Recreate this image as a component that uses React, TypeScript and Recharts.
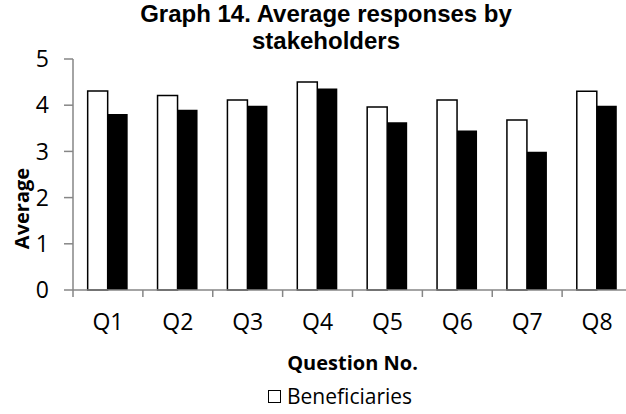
import React from "react";
import { BarChart, Bar, XAxis, YAxis, Legend } from "recharts";

const questions = ["Q1", "Q2", "Q3", "Q4", "Q5", "Q6", "Q7", "Q8"];
const beneficiaries = [4.31, 4.21, 4.11, 4.5, 3.96, 4.11, 3.68, 4.3];
const otherStakeholders = [3.81, 3.9, 3.99, 4.36, 3.63, 3.45, 2.99, 3.99];
const yTicks = [0, 1, 2, 3, 4, 5];

const data = questions.map((q, i) => ({
  q,
  beneficiaries: beneficiaries[i],
  other: otherStakeholders[i],
}));

const FONT = "'Open Sans', sans-serif";
const TITLE_FONT = "'Liberation Sans', Arial, sans-serif";
const AXIS_GREY = "#868686";

const CHART_W = 640;
const CHART_H = 414;
const MARGIN = { top: 59, right: 8, bottom: 0, left: 10 };
const Y_AXIS_W = 63;
const BAND = (CHART_W - MARGIN.left - MARGIN.right - Y_AXIS_W) / questions.length;

// Excel style: ticks sit between categories, not under them
function QuestionTick(props: any) {
  const { x, y, payload, index } = props;
  const left = x - BAND / 2;
  return (
    <g>
      <line x1={left} y1={y} x2={left} y2={y + 7} stroke={AXIS_GREY} strokeWidth={1.5} />
      {index === questions.length - 1 && (
        <line x1={x + BAND / 2} y1={y} x2={x + BAND / 2} y2={y + 7} stroke={AXIS_GREY} strokeWidth={1.5} />
      )}
      <text x={x} y={y + 40} textAnchor="middle" fontSize={23} fontFamily={FONT} fill="#000">
        {payload.value}
      </text>
    </g>
  );
}

function AverageLabel(props: any) {
  const vb = props.viewBox || { x: MARGIN.left, y: MARGIN.top, width: Y_AXIS_W, height: 231 };
  const cx = vb.x + 11;
  const cy = vb.y + vb.height / 2 + 34;
  return (
    <text
      x={cx}
      y={cy}
      transform={`rotate(-90, ${cx}, ${cy})`}
      textAnchor="middle"
      dominantBaseline="central"
      fontFamily={FONT}
      fontSize={20}
      fontWeight={700}
      fill="#000"
    >
      Average
    </text>
  );
}

function LegendBox() {
  return (
    <div
      style={{
        display: "flex",
        alignItems: "center",
        fontFamily: FONT,
        fontSize: 21,
        lineHeight: "24px",
        color: "#000",
        paddingLeft: 268,
      }}
    >
      <span
        style={{
          display: "inline-block",
          width: 11,
          height: 11,
          border: "1.5px solid #000",
          background: "#fff",
          marginRight: 6,
        }}
      />
      Beneficiaries
    </div>
  );
}

const titleLine: React.CSSProperties = {
  position: "absolute",
  left: 0,
  width: 626,
  height: 27,
  boxSizing: "border-box",
  paddingLeft: 26,
  textAlign: "center",
  fontFamily: TITLE_FONT,
  fontWeight: 700,
  fontSize: 24,
  lineHeight: "27px",
  color: "#000",
  zIndex: 1,
};

export default function App() {
  return (
    <div
      style={{
        position: "absolute",
        left: 0,
        top: 0,
        width: 626,
        height: 414,
        overflow: "hidden",
        background: "#fff",
      }}
    >
      <div style={{ ...titleLine, top: 0 }}>Graph 14. Average responses by</div>
      <div style={{ ...titleLine, top: 27 }}>stakeholders</div>
      <BarChart
        width={CHART_W}
        height={CHART_H}
        data={data}
        margin={MARGIN}
        barGap={0}
        barCategoryGap="21%"
      >
        <XAxis
          dataKey="q"
          height={124}
          tickLine={false}
          tickSize={0}
          tickMargin={0}
          stroke={AXIS_GREY}
          strokeWidth={1.5}
          interval={0}
          tick={<QuestionTick />}
          label={{
            value: "Question No.",
            position: "insideTop",
            offset: 66,
            style: { fontFamily: FONT, fontSize: 20, fontWeight: 700, fill: "#000" },
          }}
        />
        <YAxis
          width={Y_AXIS_W}
          domain={[0, 5]}
          ticks={yTicks}
          stroke={AXIS_GREY}
          strokeWidth={1.5}
          tickSize={9}
          tickMargin={15}
          tick={{ fontFamily: FONT, fontSize: 23, fill: "#000" }}
          label={<AverageLabel />}
        />
        <Legend
          verticalAlign="middle"
          content={<LegendBox />}
          wrapperStyle={{ top: 384, left: 0, width: 626 }}
        />
        <Bar
          dataKey="beneficiaries"
          name="Beneficiaries"
          fill="#fff"
          stroke="#000"
          strokeWidth={1.5}
          isAnimationActive={false}
        />
        <Bar
          dataKey="other"
          name="Other stakeholders"
          fill="#000"
          legendType="none"
          isAnimationActive={false}
        />
      </BarChart>
    </div>
  );
}
